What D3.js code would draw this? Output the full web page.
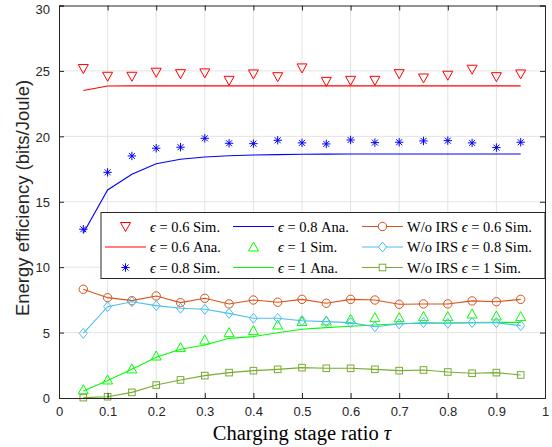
<!DOCTYPE html>
<html>
<head>
<meta charset="utf-8">
<script src="https://cdn.jsdelivr.net/npm/d3@7"></script>
<style>
  body { margin: 0; background: #fff; }
  svg { display: block; }
  .tick text { font-family: "Liberation Sans", Arial, sans-serif; font-size: 13px; fill: #262626; }
  .serif { font-family: "Liberation Serif", "DejaVu Serif", serif; }
</style>
</head>
<body>
<div id="chart"></div>
<script>
var tau = [0.05, 0.10, 0.15, 0.20, 0.25, 0.30, 0.35, 0.40, 0.45, 0.50,
           0.55, 0.60, 0.65, 0.70, 0.75, 0.80, 0.85, 0.90, 0.95];

// with IRS, simulation + analysis
var sim06 = [25.18, 24.59, 24.59, 24.90, 24.79, 24.85, 24.28, 24.77, 24.56, 25.23,
             24.20, 24.28, 24.28, 24.79, 24.46, 24.67, 25.13, 24.56, 24.77];
var ana06 = [23.50, 23.85, 23.86, 23.86, 23.86, 23.86, 23.86, 23.86, 23.86, 23.86,
             23.86, 23.86, 23.86, 23.86, 23.86, 23.86, 23.86, 23.86, 23.86];
var sim08 = [12.90, 17.25, 18.50, 19.09, 19.17, 19.85, 19.47, 19.44, 19.70, 19.50,
             19.42, 19.72, 19.52, 19.55, 19.65, 19.67, 19.50, 19.14, 19.55];
var ana08 = [12.60, 15.90, 17.10, 17.90, 18.25, 18.42, 18.52, 18.57, 18.60, 18.63,
             18.64, 18.65, 18.65, 18.65, 18.65, 18.65, 18.65, 18.65, 18.65];
var sim1 = [0.63, 1.38, 2.22, 3.21, 3.85, 4.43, 4.99, 5.15, 5.58, 5.84,
            5.89, 6.01, 6.14, 6.14, 6.22, 6.22, 6.42, 6.27, 6.22];
var ana1 = [0.53, 1.33, 2.20, 3.11, 3.72, 4.05, 4.56, 4.69, 4.99, 5.25,
            5.38, 5.48, 5.58, 5.68, 5.71, 5.73, 5.76, 5.78, 5.78];

// without IRS
var noIrs06 = [8.31, 7.67, 7.44, 7.80, 7.29, 7.62, 7.19, 7.49, 7.32, 7.54,
               7.24, 7.54, 7.49, 7.16, 7.19, 7.19, 7.42, 7.36, 7.54];
var noIrs08 = [4.94, 6.98, 7.36, 7.06, 6.86, 6.78, 6.47, 6.09, 6.09, 5.91,
               5.84, 5.76, 5.45, 5.66, 5.76, 5.71, 5.76, 5.76, 5.53];
var noIrs1 = [0.03, 0.10, 0.43, 0.99, 1.38, 1.71, 1.94, 2.09, 2.19, 2.32,
              2.27, 2.27, 2.19, 2.09, 2.14, 1.99, 1.89, 1.94, 1.76];

var xTicks = [0, 0.1, 0.2, 0.3, 0.4, 0.5, 0.6, 0.7, 0.8, 0.9, 1];
var yTicks = [0, 5, 10, 15, 20, 25, 30];

var legendLabels = [
  ['', '0.6 Sim.'], ['', '0.6 Ana.'], ['', '0.8 Sim.'],
  ['', '0.8 Ana.'], ['', '1 Sim.'], ['', '1 Ana.'],
  ['W/o IRS ', '0.6 Sim.'], ['W/o IRS ', '0.8 Sim.'], ['W/o IRS ', '1 Sim.']
];

(function () {
  'use strict';

  var width = 552, height = 447,
      left = 59, right = 545, top = 5.5, bottom = 398;

  var x = d3.scaleLinear().domain([0, 1]).range([left, right]);
  var y = d3.scaleLinear().domain([0, 30]).range([bottom, top]);

  var svg = d3.select('#chart').append('svg')
      .attr('width', width)
      .attr('height', height);

  // marker shapes
  var shapes = {
    down: function (s) { s.append('path').attr('d', 'M-5,-4L5,-4L0,5Z'); },
    up: function (s) { s.append('path').attr('d', 'M-5,4L5,4L0,-5Z'); },
    circle: function (s) { s.append('circle').attr('r', 4.2); },
    diamond: function (s) { s.append('path').attr('d', 'M0,-5L4,0L0,5L-4,0Z'); },
    square: function (s) { s.append('rect').attr('x', -3.3).attr('y', -3.3).attr('width', 6.6).attr('height', 6.6); },
    star: function (s) { s.append('path').attr('d', 'M-4.2,0H4.2M0,-4.2V4.2M-3,-3L3,3M-3,3L3,-3'); }
  };

  var series = [
    {data: sim06, color: '#ff0000', line: false, marker: 'down'},
    {data: ana06, color: '#ff0000', line: true, marker: null},
    {data: sim08, color: '#0000ff', line: false, marker: 'star'},
    {data: ana08, color: '#0000ff', line: true, marker: null},
    {data: sim1, color: '#00ff00', line: false, marker: 'up'},
    {data: ana1, color: '#00ff00', line: true, marker: null},
    {data: noIrs06, color: '#d95319', line: true, marker: 'circle'},
    {data: noIrs08, color: '#4dbeee', line: true, marker: 'diamond'},
    {data: noIrs1, color: '#77ac30', line: true, marker: 'square'}
  ];

  // grid
  svg.append('g').selectAll('line.gx')
      .data(xTicks.slice(1, -1))
      .enter().append('line')
      .attr('x1', function (d) { return x(d); })
      .attr('x2', function (d) { return x(d); })
      .attr('y1', top).attr('y2', bottom)
      .attr('stroke', '#e3e3e3').attr('stroke-width', 1);
  svg.append('g').selectAll('line.gy')
      .data(yTicks.slice(1, -1))
      .enter().append('line')
      .attr('x1', left).attr('x2', right)
      .attr('y1', function (d) { return y(d); })
      .attr('y2', function (d) { return y(d); })
      .attr('stroke', '#e3e3e3').attr('stroke-width', 1);

  // data
  var line = d3.line()
      .x(function (d, i) { return x(tau[i]); })
      .y(function (d) { return y(d); });

  series.forEach(function (s) {
    if (s.line) {
      svg.append('path')
          .attr('d', line(s.data))
          .attr('fill', 'none')
          .attr('stroke', s.color)
          .attr('stroke-width', 1.1);
    }
    if (s.marker) {
      var m = svg.append('g').selectAll('g')
          .data(s.data)
          .enter().append('g')
          .attr('transform', function (d, i) { return 'translate(' + [x(tau[i]), y(d)] + ')'; })
          .attr('fill', 'none')
          .attr('stroke', s.color)
          .attr('stroke-width', 1);
      shapes[s.marker](m);
    }
  });

  // axes, ticks inward on all four sides
  var axisColor = '#262626';
  var gx = svg.append('g').attr('transform', 'translate(0,' + bottom + ')')
      .call(d3.axisBottom(x).tickValues(xTicks).tickSize(-5).tickPadding(9)
          .tickFormat(function (d) { return d === 0 || d === 1 ? d : d3.format('.1f')(d); }));
  var gxt = svg.append('g').attr('transform', 'translate(0,' + top + ')')
      .call(d3.axisTop(x).tickValues(xTicks).tickSize(-5).tickFormat(''));
  var gy = svg.append('g').attr('transform', 'translate(' + left + ',0)')
      .call(d3.axisLeft(y).tickValues(yTicks).tickSize(-5).tickPadding(9));
  var gyr = svg.append('g').attr('transform', 'translate(' + right + ',0)')
      .call(d3.axisRight(y).tickValues(yTicks).tickSize(-5).tickFormat(''));

  // MATLAB nudges the top label down so it stays inside the figure
  gy.selectAll('.tick text')
      .attr('dy', function (d) { return d === 30 ? '0.62em' : '0.36em'; });

  [gx, gxt, gy, gyr].forEach(function (g) {
    g.selectAll('.domain').attr('stroke', axisColor).attr('stroke-width', 1);
    g.selectAll('.tick line').attr('stroke', axisColor);
  });

  // axis titles
  svg.append('text')
      .attr('transform', 'translate(29,198) rotate(-90)')
      .attr('text-anchor', 'middle')
      .attr('fill', '#262626')
      .style('font-family', '"Liberation Sans", Arial, sans-serif')
      .style('font-size', '18.5px')
      .text('Energy efficiency (bits/Joule)');

  var xl = svg.append('text')
      .attr('class', 'serif')
      .attr('x', (left + right) / 2)
      .attr('y', 440)
      .attr('text-anchor', 'middle')
      .attr('fill', '#000')
      .style('font-size', '20.5px');
  xl.append('tspan').text('Charging stage ratio ');
  xl.append('tspan').style('font-style', 'italic').text('τ');

  // legend
  var lg = svg.append('g');
  lg.append('rect')
      .attr('x', 101).attr('y', 212.5)
      .attr('width', 444).attr('height', 66)
      .attr('fill', '#fff')
      .attr('stroke', axisColor)
      .attr('stroke-width', 1);

  var colX = [105, 233, 362],
      rowY = [226.5, 247, 267.5],
      lineLen = 41;

  series.forEach(function (s, i) {
    var cx = colX[Math.floor(i / 3)],
        cy = rowY[i % 3];
    var item = lg.append('g');
    if (s.line) {
      item.append('line')
          .attr('x1', cx).attr('x2', cx + lineLen)
          .attr('y1', cy).attr('y2', cy)
          .attr('stroke', s.color).attr('stroke-width', 1.1);
    }
    if (s.marker) {
      var m = item.append('g')
          .attr('transform', 'translate(' + [cx + lineLen / 2, cy] + ')')
          .attr('fill', s.line ? '#fff' : 'none')
          .attr('stroke', s.color)
          .attr('stroke-width', 1);
      shapes[s.marker](m);
    }
    var t = item.append('text')
        .attr('class', 'serif')
        .attr('x', cx + lineLen + 4)
        .attr('y', cy + 5)
        .attr('fill', '#000')
        .style('font-size', '14.5px');
    if (legendLabels[i][0]) t.append('tspan').text(legendLabels[i][0]);
    t.append('tspan').style('font-style', 'italic').text('ϵ');
    t.append('tspan').text(' = ' + legendLabels[i][1]);
  });
}());
</script>
</body>
</html>
